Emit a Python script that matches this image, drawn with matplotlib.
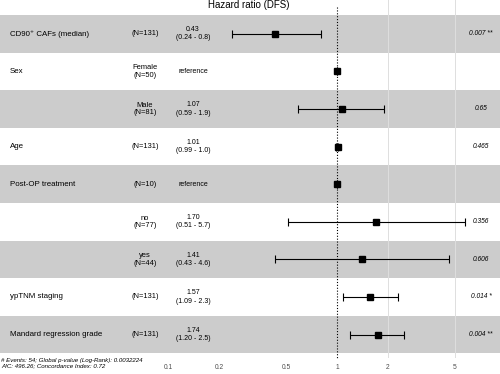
import numpy as np
import matplotlib
matplotlib.use("Agg")
import matplotlib.pyplot as plt

plt.rcParams['font.family'] = ['Liberation Sans', 'DejaVu Sans']

# ---- data ----
variables = ["CD90\u207a CAFs (median)", "Sex", "", "Age", "Post-OP treatment",
             "", "", "ypTNM staging", "Mandard regression grade"]
levels = ["(N=131)", "Female\n(N=50)", "Male\n(N=81)", "(N=131)", "(N=10)",
          "no\n(N=77)", "yes\n(N=44)", "(N=131)", "(N=131)"]
hr = [0.43, 1.0, 1.07, 1.01, 1.0, 1.70, 1.41, 1.57, 1.74]
lower = [0.24, 1.0, 0.59, 0.99, 1.0, 0.51, 0.43, 1.09, 1.20]
upper = [0.80, 1.0, 1.90, 1.02, 1.0, 5.70, 4.60, 2.30, 2.50]
est_labels = ["0.43\n(0.24 - 0.8)", "reference", "1.07\n(0.59 - 1.9)",
              "1.01\n(0.99 - 1.0)", "reference", "1.70\n(0.51 - 5.7)",
              "1.41\n(0.43 - 4.6)", "1.57\n(1.09 - 2.3)", "1.74\n(1.20 - 2.5)"]
pvals = ["0.007 **", "", "0.65", "0.465", "", "0.356", "0.606", "0.014 *", "0.004 **"]
ticks = [0.1, 0.2, 0.5, 1, 2, 5]
tick_labels = ["0.1", "0.2", "0.5", "1", "2", "5"]
grid_at = [2, 5]
title = "Hazard ratio (DFS)"
footer = ("# Events: 54; Global p-value (Log-Rank): 0.0032224\n"
          "AIC: 496.26; Concordance Index: 0.72")

# ---- figure ----
W, H = 500, 374
fig = plt.figure(figsize=(5.0, 3.74), dpi=100)
ax = fig.add_axes([0, 16 / H, 1, 358 / H])

n = len(hr)
y = np.arange(n)
row_h = 37.6
top_px = 15.0
ax.set_ylim((358 - top_px) / row_h - 0.5, (0 - top_px) / row_h - 0.5)
ax.set_xscale('log')
px_per_dec = 168.8
one_px = 337.0
ax.set_xlim(10 ** ((0 - one_px) / px_per_dec), 10 ** ((W - one_px) / px_per_dec))

for i in range(n):
    if i % 2 == 0:
        ax.axhspan(i - 0.5, i + 0.5, color='#CCCCCC', lw=0, zorder=0)

for g in grid_at:
    ax.axvline(g, color='#dedede', lw=0.7, zorder=1)

ax.vlines(1, -0.72, ax.get_ylim()[0], colors='black', linestyles=(0, (1, 1.6)),
          lw=0.8, zorder=2, clip_on=False)

hr_a = np.array(hr)
xerr = np.vstack([hr_a - np.array(lower), np.array(upper) - hr_a])
ax.errorbar(hr_a, y, xerr=xerr, fmt='s', color='black', ms=5, elinewidth=0.8,
            capsize=3.2, capthick=0.8, zorder=3)

tr = ax.get_yaxis_transform()
for i in range(n):
    ax.text(10 / W, i, variables[i], transform=tr, ha='left', va='center',
            fontsize=5.7)
    ax.text(145 / W, i, levels[i], transform=tr, ha='center', va='center',
            fontsize=5.4, linespacing=1.1)
    ax.text(193 / W, i, est_labels[i], transform=tr, ha='center', va='center',
            fontsize=5.0, linespacing=1.25)
    ax.text(481 / W, i, pvals[i], transform=tr, ha='center', va='center',
            fontsize=4.8, style='italic')

ax.set_xticks(ticks)
ax.set_xticklabels(tick_labels)
ax.xaxis.set_minor_locator(matplotlib.ticker.NullLocator())
ax.tick_params(axis='x', length=0, pad=4, labelsize=4.8, labelcolor='#4d4d4d')
ax.set_yticks([])
for s in ax.spines.values():
    s.set_visible(False)

fig.text(249 / W, 1 - 5 / H, title, ha='center', va='center', fontsize=7)
fig.text(1 / W, 1 - 363.5 / H, footer, ha='left', va='center', fontsize=4.4,
         style='italic', linespacing=1.1)

fig.savefig("out.png", dpi=100)
